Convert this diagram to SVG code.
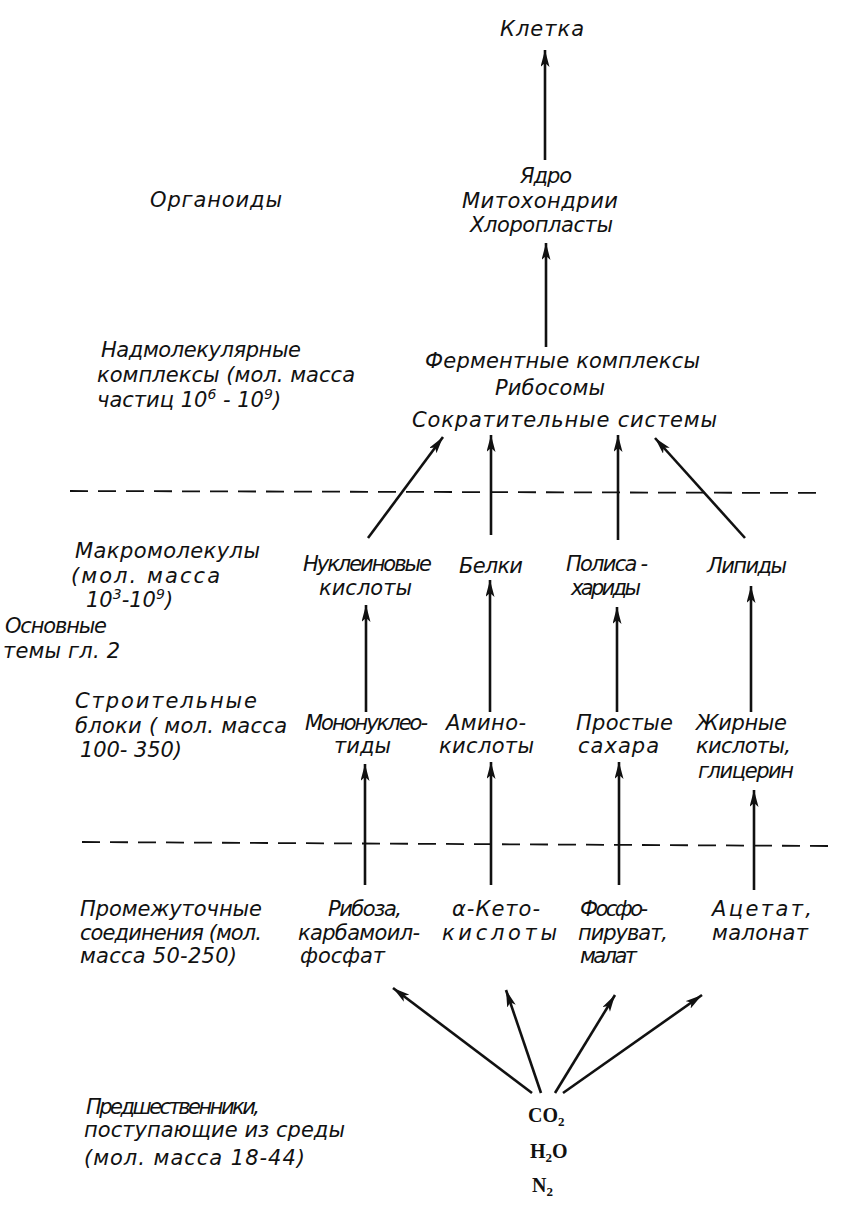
<svg xmlns="http://www.w3.org/2000/svg" width="854" height="1206" viewBox="0 0 854 1206">
<style>
.t{font-family:"DejaVu Sans","Liberation Sans",sans-serif;font-style:italic;font-size:21px;fill:#111}
.f{font-family:"Liberation Serif","DejaVu Serif",serif;font-weight:bold;font-size:20px;fill:#111}
.a{stroke:#111;stroke-width:2.6;fill:none;marker-end:url(#ah)}
.d{stroke:#111;stroke-width:1.8;stroke-dasharray:18 10;fill:none}
.sup{font-size:14px}
</style>
<defs>
<marker id="ah" markerUnits="userSpaceOnUse" markerWidth="20" markerHeight="10" refX="17" refY="4.5" orient="auto">
<path d="M0,0 L17,4.5 L0,9 L4,4.5 z" fill="#111"/>
</marker>
</defs>
<rect width="854" height="1206" fill="#fff"/>

<g id="connectors">
<line class="d" x1="70" y1="491" x2="826" y2="493"/>
<line class="d" x1="82" y1="842" x2="830" y2="846"/>
<line class="a" x1="545" y1="160" x2="545" y2="50"/>
<line class="a" x1="546" y1="347" x2="546" y2="243"/>
<line class="a" x1="368" y1="538" x2="443" y2="437"/>
<line class="a" x1="491" y1="535" x2="491" y2="435"/>
<line class="a" x1="618" y1="540" x2="618" y2="435"/>
<line class="a" x1="745" y1="538" x2="655" y2="438"/>
<line class="a" x1="366" y1="712" x2="366" y2="605"/>
<line class="a" x1="490" y1="712" x2="490" y2="580"/>
<line class="a" x1="617" y1="712" x2="617" y2="607"/>
<line class="a" x1="751" y1="712" x2="751" y2="586"/>
<line class="a" x1="365" y1="885" x2="365" y2="764"/>
<line class="a" x1="491" y1="885" x2="491" y2="762"/>
<line class="a" x1="619" y1="885" x2="619" y2="762"/>
<line class="a" x1="754" y1="890" x2="754" y2="790"/>
<line class="a" x1="532" y1="1093" x2="393" y2="988"/>
<line class="a" x1="541" y1="1093" x2="506" y2="990"/>
<line class="a" x1="555" y1="1093" x2="615" y2="995"/>
<line class="a" x1="563" y1="1093" x2="702" y2="995"/>
</g>

<g id="cell"><text class="t" x="500" y="36" textLength="84">Клетка</text></g>

<g id="organoids-label"><text class="t" x="150" y="207" textLength="132">Органоиды</text></g>

<g id="organoids">
<text class="t" x="520" y="183" textLength="52">Ядро</text>
<text class="t" x="462" y="208" textLength="156">Митохондрии</text>
<text class="t" x="470" y="232" textLength="143">Хлоропласты</text>
</g>

<g id="supra-label">
<text class="t" x="101" y="357" textLength="200">Надмолекулярные</text>
<text class="t" x="97" y="382" textLength="258">комплексы (мол. масса</text>
<text class="t" x="97" y="407">частиц 10<tspan class="sup" dy="-8">6</tspan><tspan dy="8"> - 10</tspan><tspan class="sup" dy="-8">9</tspan><tspan dy="8">)</tspan></text>
</g>

<g id="supra">
<text class="t" x="425" y="368" textLength="275">Ферментные комплексы</text>
<text class="t" x="495" y="395" textLength="110">Рибосомы</text>
<text class="t" x="412" y="427" textLength="305">Сократительные системы</text>
</g>

<g id="macro-label">
<text class="t" x="75" y="558" textLength="185">Макромолекулы</text>
<text class="t" x="71" y="583" textLength="149">(мол. масса</text>
<text class="t" x="86" y="607">10<tspan class="sup" dy="-8">3</tspan><tspan dy="8">-10</tspan><tspan class="sup" dy="-8">9</tspan><tspan dy="8">)</tspan></text>
</g>

<g id="themes-label">
<text class="t" x="5" y="633" textLength="102">Основные</text>
<text class="t" x="3" y="658" textLength="117">темы гл. 2</text>
</g>

<g id="nucleic"><text class="t" x="303" y="571" textLength="129">Нуклеиновые</text><text class="t" x="319" y="595" textLength="93">кислоты</text></g>
<g id="proteins"><text class="t" x="459" y="573" textLength="64">Белки</text></g>
<g id="polysacch"><text class="t" x="566" y="571" textLength="82">Полиса -</text><text class="t" x="571" y="595" textLength="70">хариды</text></g>
<g id="lipids"><text class="t" x="707" y="573" textLength="80">Липиды</text></g>

<g id="blocks-label">
<text class="t" x="75" y="708" textLength="182">Строительные</text>
<text class="t" x="75" y="733" textLength="212">блоки ( мол. масса</text>
<text class="t" x="80" y="757" textLength="102">100- 350)</text>
</g>

<g id="mononucl"><text class="t" x="305" y="730" textLength="123">Мононуклео-</text><text class="t" x="334" y="753" textLength="57">тиды</text></g>
<g id="amino"><text class="t" x="446" y="730" textLength="80">Амино-</text><text class="t" x="439" y="753" textLength="95">кислоты</text></g>
<g id="sugars"><text class="t" x="576" y="730" textLength="97">Простые</text><text class="t" x="578" y="753" textLength="81">сахара</text></g>
<g id="fatty"><text class="t" x="696" y="730" textLength="91">Жирные</text><text class="t" x="696" y="753" textLength="95">кислоты,</text><text class="t" x="698" y="778" textLength="96">глицерин</text></g>

<g id="inter-label">
<text class="t" x="80" y="916" textLength="182">Промежуточные</text>
<text class="t" x="80" y="940" textLength="182">соединения (мол.</text>
<text class="t" x="80" y="963" textLength="157">масса 50-250)</text>
</g>

<g id="ribose"><text class="t" x="328" y="916" textLength="74">Рибоза,</text><text class="t" x="298" y="940" textLength="122">карбамоил-</text><text class="t" x="300" y="963" textLength="85">фосфат</text></g>
<g id="ketoacids"><text class="t" x="452" y="916" textLength="88">α-Кето-</text><text class="t" x="442" y="940" textLength="115">кислоты</text></g>
<g id="phospho"><text class="t" x="580" y="916" textLength="68">Фосфо-</text><text class="t" x="578" y="940" textLength="90">пируват,</text><text class="t" x="580" y="963" textLength="57">малат</text></g>
<g id="acetate"><text class="t" x="712" y="916" textLength="100">Ацетат,</text><text class="t" x="712" y="940" textLength="96">малонат</text></g>

<g id="precursors-label">
<text class="t" x="86" y="1114" textLength="174">Предшественники,</text>
<text class="t" x="84" y="1137" textLength="261">поступающие из среды</text>
<text class="t" x="84" y="1165" textLength="221">(мол. масса  18-44)</text>
</g>

<g id="precursors">
<text class="f" x="528" y="1122">CO<tspan font-size="13" dy="4">2</tspan></text>
<text class="f" x="530" y="1158">H<tspan font-size="13" dy="4">2</tspan><tspan dy="-4">O</tspan></text>
<text class="f" x="532" y="1192">N<tspan font-size="13" dy="4">2</tspan></text>
</g>
</svg>
